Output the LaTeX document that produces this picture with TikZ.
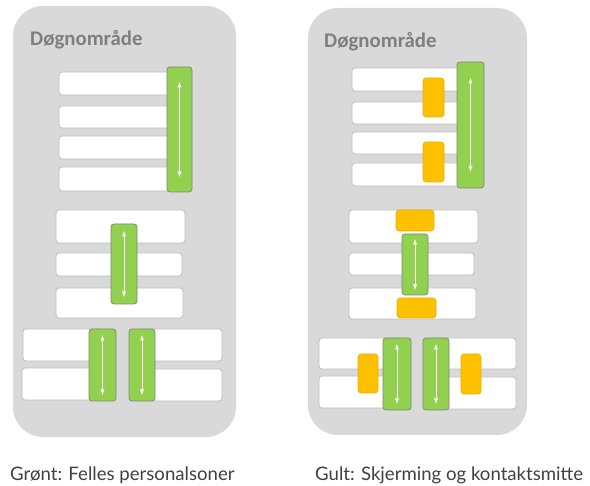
\documentclass[tikz,border=0pt]{standalone}
\usepackage{fontspec}
\setmainfont{Lato}
\newfontfamily\titlefont{Carlito}
\usepackage{tikz}
\usetikzlibrary{positioning}

\definecolor{panelgray}{HTML}{D9D9D9}
\definecolor{rowline}{HTML}{BDBDBD}
\definecolor{greenfill}{HTML}{92D050}
\definecolor{greenline}{HTML}{7F8A74}
\definecolor{orangefill}{HTML}{FFC000}
\definecolor{orangeline}{HTML}{E8B000}
\definecolor{titlegray}{HTML}{7F7F7F}
\definecolor{captiongray}{HTML}{404040}

\tikzset{
  box/.style={rectangle, anchor=north west, inner sep=0pt, outer sep=0pt, rounded corners=3pt},
  row/.style={box, draw=rowline, fill=white, line width=0.8pt},
  zone/.style={box, draw=greenline, fill=greenfill, line width=0.8pt},
  shield/.style={box, draw=orangeline, fill=orangefill, line width=0.6pt},
  panel/.style={fill=panelgray, rounded corners=30pt},
  updown/.style={white, line width=0.9pt, latex-latex},
  heading/.style={anchor=base west, font=\titlefont\bfseries\fontsize{20.8}{24}\selectfont, text=titlegray, inner sep=0pt},
  caption/.style={anchor=base west, text=captiongray, font=\fontsize{18.6}{22}\selectfont, inner sep=0pt}
}

\begin{document}
\begin{tikzpicture}[x=1pt,y=-1pt]
\useasboundingbox (0,0) rectangle (590,486);

% panels
\fill[panel] (13,6) rectangle (236,437);
\fill[panel] (308,8) rectangle (527,435);
\node[heading] (titleL) at (30,46) {Døgnområde};
\node[heading] (titleR) at (324,48) {Døgnområde};

% rooms
\foreach \n/\x/\y/\w/\h in {a1/59/72/121/23, a2/59/106/121/22, a3/59/136/121/23, a4/59/167/121/24,
    b1/56/210/129/33, b2/56/253/126/23, b3/56/288/127/30,
    c1/23/329/80/32, c2/22/368/80/32, c3/140/329/82/32, c4/140/369/82/32,
    d1/352/68/112/23, d2/352/102/112/22, d3/352/132/112/22, d4/352/163/112/23,
    e1/349/210/129/33, e2/349/253/125/22, e3/349/288/127/31,
    f1/319/338/80/31, f2/319/376/80/32, f3/435/338/81/31, f4/435/377/81/32} {
    \node[row, minimum width=\w pt, minimum height=\h pt] (\n) at (\x,\y) {};
}

% shared staff zones
\foreach \n/\x/\y/\w/\h in {ga/167/67/25/125, gb/111/224/26/80, gc/89/329/27/72, gd/129/329/26/72,
    ge/457/62/27/126, gf/402/234/26/61, gg/383/338/28/72, gh/423/338/26/72} {
    \node[zone, minimum width=\w pt, minimum height=\h pt] (\n) at (\x,\y) {};
}

% isolation
\foreach \n/\x/\y/\w/\h in {o1/423/78/21/39, o2/423/142/21/40, o3/396/210/38/21, o4/397/298/39/20,
    o5/358/354/20/39, o6/461/354/20/40} {
    \node[shield, minimum width=\w pt, minimum height=\h pt] (\n) at (\x,\y) {};
}

% arrows
\foreach \n/\d in {ga/15, gb/7, gc/6, gd/6, ge/16, gf/5, gg/6, gh/6} {
    \draw[updown] ([yshift=\d pt]\n.south) -- ([yshift=-\d pt]\n.north);
}

\node[caption] (capL) at (10,481) {Grønt: Felles personalsoner};
\node[caption] (capR) at (315,481) {Gult: Skjerming og kontaktsmitte};
\end{tikzpicture}
\end{document}
